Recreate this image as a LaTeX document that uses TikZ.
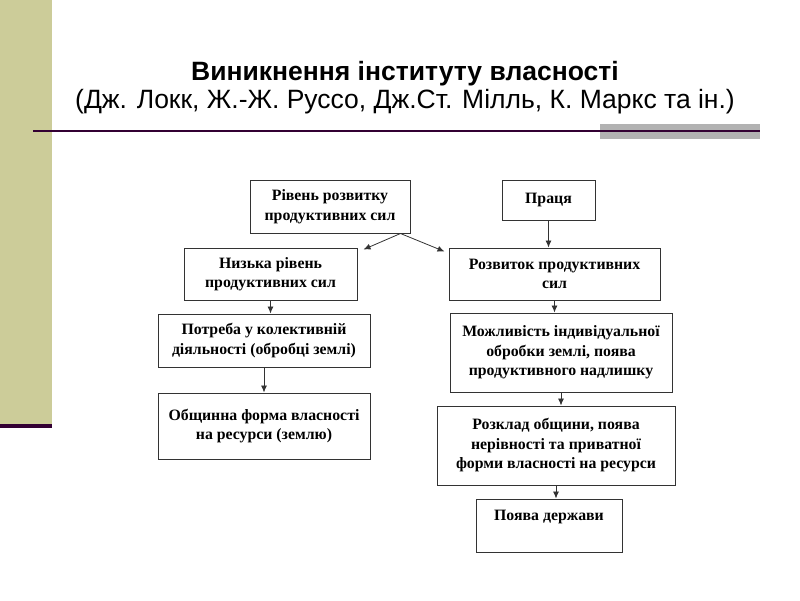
\documentclass[tikz,border=0pt]{standalone}
\usepackage{fontspec}
\setmainfont{Liberation Serif}
\newfontfamily\headfont{Liberation Sans}
\usepackage{tikz}
\usetikzlibrary{arrows.meta}
\definecolor{barkhaki}{RGB}{204,204,153}
\definecolor{rulepurple}{RGB}{51,0,51}
\definecolor{rulegray}{RGB}{178,178,178}

\begin{document}
\begin{tikzpicture}[x=1pt,y=-1pt,>={Latex[length=7pt,width=6pt]},main/.style={draw=black!80, line width=1pt, align=center, inner sep=2pt, font=\bfseries\fontsize{15.8}{19.5}\selectfont},head/.style={anchor=base, font=\headfont\fontsize{26.5}{28}\selectfont}]
            \useasboundingbox (0,0) rectangle (800,600);
            \fill[barkhaki] (0,0) rectangle (52,424);
            \fill[rulepurple] (0,424) rectangle (52,428);
            \fill[rulegray] (600,124) rectangle (760,139);
            \draw[rulepurple, line width=2pt] (33,130.5) -- (760,130.5);

            \node[head, font=\headfont\bfseries\fontsize{26.5}{28}\selectfont] (t1) at (405,80) {Виникнення інституту власності};
            \node[head] (t2) at (405,108) {(Дж. Локк, Ж.-Ж. Руссо, Дж.Ст. Мілль, К. Маркс та ін.)};

            \node[main, minimum width=160pt, minimum height=53pt] (0) at (330,206.5) {Рівень розвитку\\продуктивних сил};
            \node[main, minimum width=93pt, minimum height=40pt] (1) at (548.5,200) {Праця};

            \node[main, minimum width=173pt, minimum height=52pt] (2) at (270.5,274) {Низька рівень\\продуктивних сил};
            \node[main, minimum width=211pt, minimum height=52pt] (3) at (554.5,274) {Розвиток продуктивних\\сил};

            \node[main, minimum width=212pt, minimum height=53pt] (4) at (264,340.5) {Потреба у колективній\\діяльності (обробці землі)};
            \node[main, minimum width=222pt, minimum height=79pt] (5) at (561,352.5) {Можливість індивідуальної\\обробки землі, поява\\продуктивного надлишку};

            \node[main, minimum width=212pt, minimum height=66pt] (6) at (264,426) {Общинна форма власності\\на ресурси (землю)};
            \node[main, minimum width=238pt, minimum height=79pt] (7) at (556,445.5) {Розклад общини, поява\\нерівності та приватної\\форми власності на ресурси};

            \node[main, minimum width=146pt, minimum height=53pt] (8) at (549,525.5) {Поява держави\\~};

            \coordinate (split) at ([xshift=-10pt]0.south east);

            \path[->, color=black!80, line width=0.8pt]
                      (split) edge ([xshift=6pt,yshift=-2pt]2.north east)
                      (split) edge ([xshift=-4pt,yshift=-4pt]3.north west)
                      (1) edge (1 |- 3.north)
                      (2) edge (2 |- 4.north)
                      (4) edge (4 |- 6.north)
                      (3) edge (3 |- 5.north)
                      (5) edge (5 |- 7.north)
                      (7) edge (7 |- 8.north);
          \end{tikzpicture}
\end{document}
